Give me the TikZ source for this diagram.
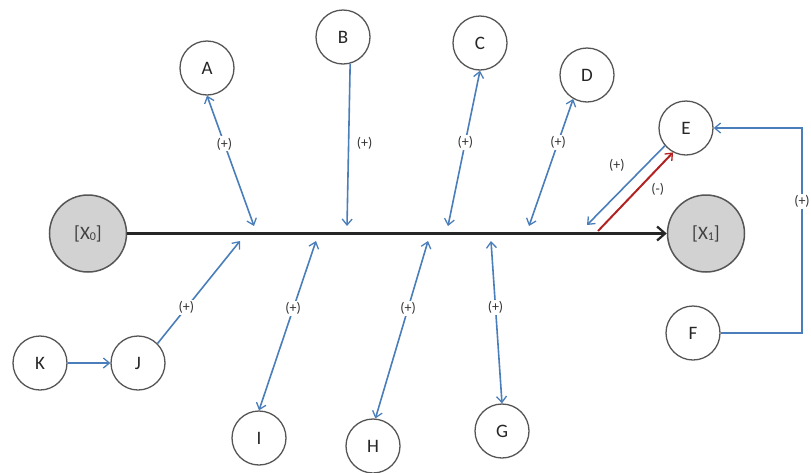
\documentclass[tikz,border=0pt]{standalone}
\usepackage{fontspec}
\setmainfont{Carlito}
\usetikzlibrary{arrows.meta}
\definecolor{lnblue}{RGB}{74,126,187}
\definecolor{lnred}{RGB}{178,34,34}
\definecolor{circ}{RGB}{85,85,85}
\definecolor{bigfill}{RGB}{210,210,210}
\tikzset{
  small/.style={circle, draw=circ, line width=1.3pt, fill=white, minimum size=54pt, inner sep=0pt, font=\fontsize{19}{19}\selectfont, text=black!85},
  big/.style={circle, draw=circ, line width=1.5pt, fill=bigfill, minimum size=77pt, inner sep=0pt, font=\fontsize{19}{19}\selectfont, text=black!75},
  mytip/.tip={Straight Barb[length=6pt,width=10pt,line width=1.3pt]},
  blu/.style={draw=lnblue, line width=1.6pt},
  lbl/.style={fill=white, inner sep=1.5pt, font=\fontsize{14}{14}\selectfont, text=black!80},
}
\newcommand{\subz}[1]{{\fontsize{12}{12}\selectfont\raisebox{-1.5pt}{#1}}}
\begin{document}
\begin{tikzpicture}[x=1pt,y=-1pt]
\useasboundingbox (0,0) rectangle (811,472);
% nodes
\node[big] (X0) at (88,233.5) {[X\subz{0}]};
\node[big] (X1) at (706,233.5) {[X\subz{1}]};
\node[small] (A) at (207,68) {A};
\node[small] (B) at (343,37) {B};
\node[small] (C) at (480,43) {C};
\node[small] (D) at (587,75) {D};
\node[small] (E) at (686,128) {E};
\node[small] (F) at (693,333) {F};
\node[small] (K) at (40,363) {K};
\node[small] (J) at (138,363) {J};
\node[small] (I) at (259,438) {I};
\node[small] (H) at (373,446) {H};
\node[small] (G) at (502,431) {G};
% points on main line
\coordinate (pa) at (254,226);
\coordinate (pb) at (347,226);
\coordinate (pc) at (448,226);
\coordinate (pd) at (529,226);
\coordinate (pe) at (587,225);
\coordinate (pr) at (598,231);
\coordinate (pj) at (240,241);
\coordinate (pi) at (316,241);
\coordinate (ph) at (428,241);
\coordinate (pg) at (491,241);
\coordinate (fe) at (802,333);
% blue connectors
\draw[blu, {mytip}-{mytip}] (A.south) -- node[lbl, pos=0.37] {(+)} (pa);
\draw[blu, -{mytip}] (B.-75) -- node[lbl, pos=0.49, right=6pt] {(+)} (pb);
\draw[blu, {mytip}-{mytip}] (C.south) -- node[lbl, pos=0.46] {(+)} (pc);
\draw[blu, {mytip}-{mytip}] (D.-120) -- node[lbl, pos=0.34] {(+)} (pd);
\draw[blu, -{mytip}] (E.-140) -- node[lbl, fill=none, pos=0.45, xshift=-13pt, yshift=16pt] {(+)} (pe);
\draw[draw=lnred, line width=2pt, -{mytip}] (pr) -- node[lbl, fill=none, pos=0.53, xshift=20pt] {(-)} (E.-118);
\draw[blu, -{mytip}] (F.east) -- (fe) |- node[lbl, pos=0.32] {(+)} (E.east);
\draw[blu, -{mytip}] (K) -- (J);
\draw[blu, -{mytip}] (J.45) -- node[lbl, pos=0.35] {(+)} (pj);
\draw[blu, {mytip}-{mytip}] (pi) -- node[lbl, pos=0.4] {(+)} (I.north);
\draw[blu, {mytip}-{mytip}] (ph) -- node[lbl, pos=0.38] {(+)} (H.85);
\draw[blu, {mytip}-{mytip}] (pg) -- node[lbl, pos=0.41] {(+)} (G.north);
% main arrow
\draw[line width=3.2pt, draw=black!85, -{Straight Barb[length=8pt,width=14pt,line width=2.2pt]}] (X0) -- (X1);
\end{tikzpicture}
\end{document}
